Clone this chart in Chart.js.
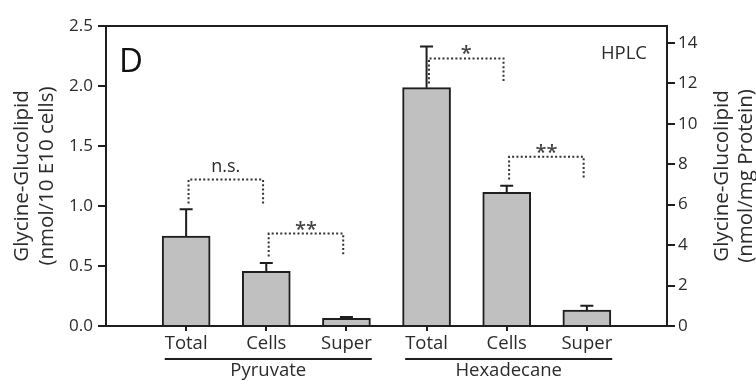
<!DOCTYPE html>
<html>
<head>
<meta charset="utf-8">
<script src="https://cdn.jsdelivr.net/npm/chart.js@4.4.1/dist/chart.umd.min.js"></script>
<style>
  body { margin: 0; background: #fff; }
  #wrap { width: 756px; height: 381px; }
</style>
</head>
<body>
<div id="wrap"><canvas id="myChart"></canvas></div>
<script>
// datos
const categories = ["Total", "Cells", "Super", "Total", "Cells", "Super"];
const groupNames = ["Pyruvate", "Hexadecane"];
const groupFirst = [0, 3];
const groupLast = [2, 5];
const glycineValues = [0.75, 0.456, 0.064, 1.986, 1.114, 0.133];
const glycineErrors = [0.222, 0.069, 0.011, 0.344, 0.055, 0.036];
const leftTicks = [0, 0.5, 1.0, 1.5, 2.0, 2.5];
const rightTicks = [0, 2, 4, 6, 8, 10, 12, 14];

// significancia
const sigText = ["n.s.", "**", "*", "**"];
const sigFrom = [0, 1, 3, 4];
const sigTo = [1, 2, 4, 5];
const sigTop = [1.22, 0.77, 2.23, 1.41];
const sigFromEnd = [1.02, 0.58, 2.02, 1.22];
const sigToEnd = [1.02, 0.58, 2.04, 1.22];

const ink = "#1e1e1e";
const textColor = "#2b2b2b";
const fam = "'Open Sans', sans-serif";

const extras = {
  id: "extras",
  afterDatasetsDraw(chart) {
    const ctx = chart.ctx;
    const x = chart.scales.x;
    const y = chart.scales.y;
    const a = chart.chartArea;
    ctx.save();

    // barras de error
    ctx.strokeStyle = ink;
    ctx.lineWidth = 2;
    glycineValues.forEach((v, i) => {
      const px = x.getPixelForValue(i);
      const top = y.getPixelForValue(v + glycineErrors[i]);
      ctx.beginPath();
      ctx.moveTo(px, y.getPixelForValue(v));
      ctx.lineTo(px, top);
      ctx.moveTo(px - 6.5, top);
      ctx.lineTo(px + 6.5, top);
      ctx.stroke();
    });

    // marco superior
    ctx.beginPath();
    ctx.moveTo(a.left - 1, a.top);
    ctx.lineTo(a.right + 1, a.top);
    ctx.stroke();

    // corchetes
    ctx.strokeStyle = "#333";
    ctx.setLineDash([2, 2.3]);
    sigText.forEach((t, k) => {
      const x0 = x.getPixelForValue(sigFrom[k] + 0.03);
      const x1 = x.getPixelForValue(sigTo[k] - 0.04);
      const yt = y.getPixelForValue(sigTop[k]);
      ctx.beginPath();
      ctx.moveTo(x0, y.getPixelForValue(sigFromEnd[k]));
      ctx.lineTo(x0, yt);
      ctx.lineTo(x1, yt);
      ctx.lineTo(x1, y.getPixelForValue(sigToEnd[k]));
      ctx.stroke();
    });
    ctx.setLineDash([]);

    ctx.textAlign = "center";
    ctx.textBaseline = "alphabetic";
    sigText.forEach((t, k) => {
      const x0 = x.getPixelForValue(sigFrom[k] + 0.03);
      const x1 = x.getPixelForValue(sigTo[k] - 0.04);
      const yt = y.getPixelForValue(sigTop[k]);
      if (t == "n.s.") {
        ctx.fillStyle = textColor;
        ctx.font = "18px " + fam;
        ctx.fillText(t, (x0 + x1) / 2, yt - 8);
      } else {
        ctx.fillStyle = "#444";
        ctx.font = "600 20px " + fam;
        ctx.fillText(t, (x0 + x1) / 2, yt + 2);
      }
    });

    // grupos
    ctx.fillStyle = textColor;
    ctx.strokeStyle = ink;
    ctx.lineWidth = 2;
    ctx.font = "18.5px " + fam;
    groupNames.forEach((g, k) => {
      const l = x.getPixelForValue(groupFirst[k]) - ctx.measureText(categories[groupFirst[k]]).width / 2;
      const r = x.getPixelForValue(groupLast[k]) + ctx.measureText(categories[groupLast[k]]).width / 2;
      ctx.beginPath();
      ctx.moveTo(l, a.bottom + 33);
      ctx.lineTo(r, a.bottom + 33);
      ctx.stroke();
      ctx.fillText(g, (l + r) / 2, a.bottom + 50);
    });

    // letra y HPLC
    ctx.textAlign = "left";
    ctx.font = "33px " + fam;
    ctx.fillStyle = "#111";
    ctx.fillText("D", a.left + 13, a.top + 46);
    ctx.textAlign = "right";
    ctx.font = "18.5px " + fam;
    ctx.fillStyle = textColor;
    ctx.fillText("HPLC", a.right - 20, a.top + 33);

    // titulos de ejes
    ctx.font = "20.5px " + fam;
    ctx.textAlign = "center";
    ctx.textBaseline = "middle";
    const cy = (a.top + a.bottom) / 2;
    const titulo = (lines, xs) => {
      lines.forEach((txt, j) => {
        ctx.save();
        ctx.translate(xs[j], cy);
        ctx.rotate(-Math.PI / 2);
        ctx.fillText(txt, 0, 0);
        ctx.restore();
      });
    };
    titulo(["Glycine-Glucolipid", "(nmol/10 E10 cells)"], [a.left - 84, a.left - 59]);
    titulo(["Glycine-Glucolipid", "(nmol/mg Protein)"], [a.right + 55, a.right + 79]);

    ctx.restore();
  }
};

const ctx = document.getElementById("myChart");
window.myChart = new Chart(ctx, {
  type: "bar",
  data: {
    datasets: [
      {
        data: glycineValues.map((v, i) => ({ x: i, y: v })),
        backgroundColor: "#c0c0c0",
        borderColor: ink,
        borderWidth: 2,
        barThickness: 48,
        yAxisID: "y",
      },
    ],
  },
  options: {
    responsive: true,
    maintainAspectRatio: false,
    animation: false,
    layout: { padding: { top: 26, left: 0, right: 0, bottom: 0 } },
    plugins: { legend: { display: false }, tooltip: { enabled: false } },
    scales: {
      x: {
        type: "linear",
        min: -1,
        max: 6,
        offset: false,
        afterBuildTicks: (s) => {
          s.ticks = categories.map((c, i) => ({ value: i }));
        },
        afterFit: (s) => {
          s.height = 55;
        },
        ticks: {
          callback: (v) => categories[v],
          autoSkip: false,
          maxRotation: 0,
          color: textColor,
          font: { family: fam, size: 18.5 },
          padding: 2,
        },
        grid: { drawOnChartArea: false, offset: false, tickLength: 5, lineWidth: 2, color: ink },
        border: { color: ink, width: 2 },
      },
      y: {
        min: 0,
        max: 2.5,
        afterBuildTicks: (s) => {
          s.ticks = leftTicks.map((v) => ({ value: v }));
        },
        afterFit: (s) => {
          s.width = 106;
        },
        ticks: {
          callback: (v) => v.toFixed(1),
          color: textColor,
          font: { family: fam, size: 17 },
          padding: 5,
        },
        grid: { drawOnChartArea: false, tickLength: 8, lineWidth: 2, color: ink },
        border: { color: ink, width: 2 },
      },
      y2: {
        position: "right",
        min: 0,
        max: 14.83,
        afterBuildTicks: (s) => {
          s.ticks = rightTicks.map((v) => ({ value: v }));
        },
        afterFit: (s) => {
          s.width = 89;
        },
        ticks: {
          color: textColor,
          font: { family: fam, size: 17 },
          padding: 3,
        },
        grid: { drawOnChartArea: false, tickLength: 8, lineWidth: 2, color: ink },
        border: { color: ink, width: 2 },
      },
    },
  },
  plugins: [extras],
});
</script>
</body>
</html>
